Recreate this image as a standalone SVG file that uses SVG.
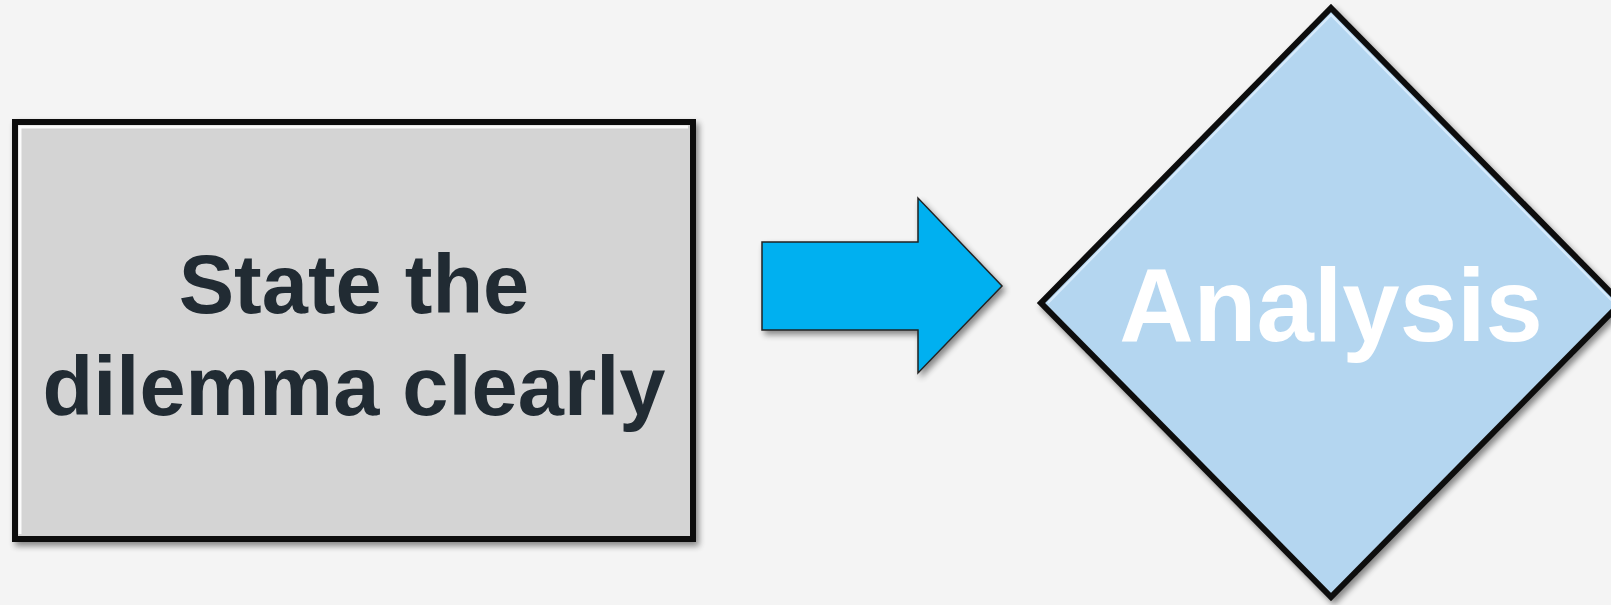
<svg xmlns="http://www.w3.org/2000/svg" width="1611" height="605" viewBox="0 0 1611 605">
  <style>
    .lbl { font-family: "Liberation Sans", Arial, sans-serif; font-weight: bold; text-anchor: middle; }
  </style>
  <defs>
    <filter id="shadow" x="-10%" y="-10%" width="125%" height="125%">
      <feGaussianBlur in="SourceAlpha" stdDeviation="3"/>
      <feOffset dx="3" dy="4" result="b"/>
      <feComponentTransfer><feFuncA type="linear" slope="0.45"/></feComponentTransfer>
      <feMerge><feMergeNode/><feMergeNode in="SourceGraphic"/></feMerge>
    </filter>
  </defs>
  <rect x="0" y="0" width="1611" height="605" fill="#f4f4f4"/>
  <g id="node-state">
    <rect x="15" y="122" width="678" height="417" fill="#d4d4d4" stroke="#111" stroke-width="6" filter="url(#shadow)"/>
    <path d="M20 534 V127 H688" fill="none" stroke="#ffffff" stroke-width="3" opacity="0.9"/>
    <text class="lbl" x="354" y="313" font-size="83" fill="#212b33">State the</text>
    <text class="lbl" x="354" y="415" font-size="83" fill="#212b33">dilemma clearly</text>
  </g>
  <g id="connectors">
    <polygon points="762,242 918,242 918,198 1002,286 918,373 918,330 762,330" fill="#00b0f0" stroke="#222" stroke-width="1.5" filter="url(#shadow)"/>
  </g>
  <g id="node-analysis">
    <polygon points="1331,8 1621,303 1331,597 1041,303" fill="#b4d6f0" stroke="#111" stroke-width="6" filter="url(#shadow)"/>
    <path d="M1048 303 L1331 15 L1614 303" fill="none" stroke="#e0f0ff" stroke-width="2" opacity="0.8"/>
    <text class="lbl" x="1331" y="341" font-size="103" fill="#ffffff">Analysis</text>
  </g>
</svg>
